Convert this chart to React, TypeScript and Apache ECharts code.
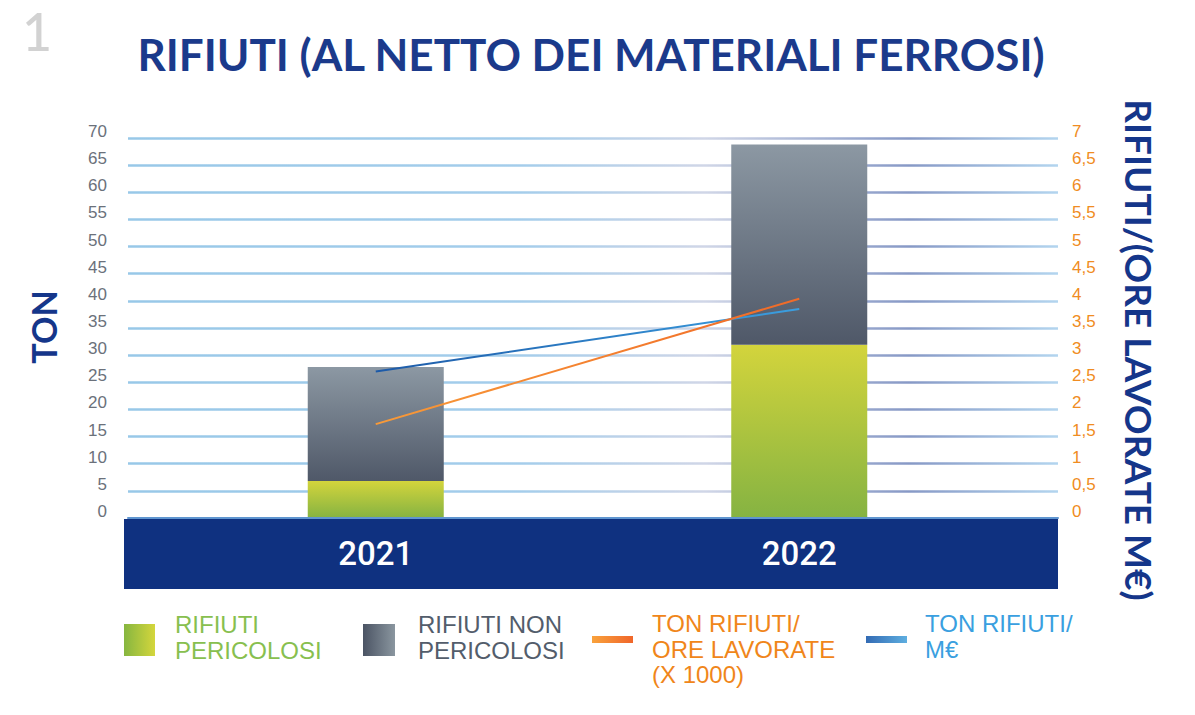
import React, { useEffect, useRef } from "react";
import * as echarts from "echarts";

const years = ["2021", "2022"];
const pericolosi = [6.8, 31.9];
const nonPericolosi = [21.0, 36.9];
const tonOreLavorate = [1.73, 4.04];
const tonMilioni = [2.7, 3.85];

const leftTicks = { min: 0, max: 70, interval: 5 };
const rightTicks = { min: 0, max: 7, interval: 0.5 };

const FONT = "'Liberation Sans', Arial, sans-serif";
const TITLE_FONT = "Lato, 'DejaVu Sans', sans-serif";
const NAVY = "#15368a";

const lg = (x2: number, y2: number, c0: string, c1: string) =>
  new echarts.graphic.LinearGradient(0, 0, x2, y2, [
    { offset: 0, color: c0 },
    { offset: 1, color: c1 },
  ]);

export default function App() {
  const ref = useRef<HTMLDivElement>(null);
  useEffect(() => {
    if (!ref.current) return;
    const chart = echarts.init(ref.current, null, { renderer: "svg" });
    const gridTop = 138;
    const gridHeight = 380;
    const splitGrad = new echarts.graphic.LinearGradient(
      128,
      0,
      1058,
      0,
      [
        { offset: 0, color: "#98c8e8" },
        { offset: 0.42, color: "#a4cdeb" },
        { offset: 0.62, color: "#d0d6e7" },
        { offset: 0.84, color: "#8799c6" },
        { offset: 1, color: "#b3d5ef" },
      ],
      true
    );
    chart.setOption({
      animation: false,
      backgroundColor: "#ffffff",
      grid: [
        { left: 128, width: 930, top: gridTop, height: gridHeight },
        { left: 164, width: 847, top: gridTop, height: gridHeight },
      ],
      xAxis: [
        {
          type: "category",
          gridIndex: 0,
          data: [""],
          axisLine: { show: true, lineStyle: { color: "#5f95d0", width: 2 } },
          axisTick: { show: false },
          axisLabel: { show: false },
          z: 5,
        },
        {
          type: "category",
          gridIndex: 1,
          data: years,
          axisLine: { show: false },
          axisTick: { show: false },
          axisLabel: {
            color: "#ffffff",
            fontFamily: "Roboto, sans-serif",
            fontWeight: 500,
            fontSize: 33,
            margin: 19,
          },
          z: 10,
        },
      ],
      yAxis: [
        {
          type: "value",
          gridIndex: 0,
          position: "left",
          ...leftTicks,
          axisLine: { show: false },
          axisTick: { show: false },
          splitLine: { show: true, lineStyle: { color: splitGrad, width: 2.5 } },
          axisLabel: {
            color: "#6b717b",
            fontFamily: FONT,
            fontSize: 17,
            margin: 21,
            verticalAlign: "bottom",
            lineHeight: 13,
          },
        },
        {
          type: "value",
          gridIndex: 0,
          position: "right",
          ...rightTicks,
          axisLine: { show: false },
          axisTick: { show: false },
          splitLine: { show: false },
          axisLabel: {
            color: "#f08c22",
            fontFamily: FONT,
            fontSize: 17,
            margin: 14,
            verticalAlign: "bottom",
            lineHeight: 13,
            formatter: (v: number) => String(v).replace(".", ","),
          },
        },
        {
          type: "value",
          gridIndex: 1,
          ...leftTicks,
          show: false,
          splitLine: { show: false },
        },
        {
          type: "value",
          gridIndex: 1,
          ...rightTicks,
          show: false,
          splitLine: { show: false },
        },
      ],
      series: [
        {
          name: "RIFIUTI PERICOLOSI",
          type: "bar",
          xAxisIndex: 1,
          yAxisIndex: 2,
          stack: "tot",
          barWidth: 136,
          data: pericolosi,
          itemStyle: { color: lg(0, 1, "#d3d43c", "#85b342") },
          z: 3,
        },
        {
          name: "RIFIUTI NON PERICOLOSI",
          type: "bar",
          xAxisIndex: 1,
          yAxisIndex: 2,
          stack: "tot",
          barWidth: 136,
          data: nonPericolosi,
          itemStyle: { color: lg(0, 1, "#8c98a3", "#4f5868") },
          z: 3,
        },
        {
          name: "TON RIFIUTI/M€",
          type: "line",
          xAxisIndex: 1,
          yAxisIndex: 3,
          data: tonMilioni,
          showSymbol: false,
          symbol: "none",
          lineStyle: { width: 2, color: lg(1, 0, "#1d5aa8", "#3b9fe0") },
          z: 6,
        },
        {
          name: "TON RIFIUTI/ORE LAVORATE (X 1000)",
          type: "line",
          xAxisIndex: 1,
          yAxisIndex: 3,
          data: tonOreLavorate,
          showSymbol: false,
          symbol: "none",
          lineStyle: { width: 2, color: lg(1, 0, "#f89a38", "#f06a28") },
          z: 6,
        },
      ],
      graphic: [
        {
          type: "rect",
          z: 1,
          shape: { x: 124, y: 519, width: 934, height: 70 },
          style: { fill: "#0f3180" },
        },
        {
          type: "text",
          style: {
            x: 22,
            y: 5,
            text: "1",
            fill: "#d2d2d2",
            font: `500 52px ${TITLE_FONT}`,
            textVerticalAlign: "top",
          },
        },
        {
          type: "text",
          style: {
            x: 591,
            y: 54,
            text: "RIFIUTI (AL NETTO DEI MATERIALI FERROSI)",
            fill: "#1b3a8b",
            font: `bold 44px ${TITLE_FONT}`,
            textAlign: "center",
            textVerticalAlign: "middle",
          },
        },
        {
          type: "text",
          x: 43,
          y: 327,
          rotation: Math.PI / 2,
          style: {
            x: 0,
            y: 0,
            text: "TON",
            fill: NAVY,
            font: `bold 34px ${TITLE_FONT}`,
            textAlign: "center",
            textVerticalAlign: "middle",
          },
        },
        {
          type: "text",
          x: 1139,
          y: 350,
          rotation: -Math.PI / 2,
          style: {
            x: 0,
            y: 0,
            text: "RIFIUTI/(ORE LAVORATE M€)",
            fill: NAVY,
            font: `bold 37px ${TITLE_FONT}`,
            textAlign: "center",
            textVerticalAlign: "middle",
          },
        },
        // legend
        {
          type: "rect",
          shape: { x: 124, y: 624, width: 31, height: 32 },
          style: { fill: lg(1, 0, "#86b640", "#d4d63c") },
        },
        {
          type: "text",
          style: {
            x: 175,
            y: 612,
            text: "RIFIUTI\nPERICOLOSI",
            fill: "#88bf4f",
            font: `24px ${FONT}`,
            lineHeight: 25.5,
            textVerticalAlign: "top",
          },
        },
        {
          type: "rect",
          shape: { x: 363, y: 624, width: 32, height: 32 },
          style: { fill: lg(1, 0, "#4b5464", "#8a969f") },
        },
        {
          type: "text",
          style: {
            x: 418,
            y: 612,
            text: "RIFIUTI NON\nPERICOLOSI",
            fill: "#535d6b",
            font: `24px ${FONT}`,
            lineHeight: 25.5,
            textVerticalAlign: "top",
          },
        },
        {
          type: "rect",
          shape: { x: 592, y: 636, width: 41, height: 7 },
          style: { fill: lg(1, 0, "#f9a23c", "#f0662a") },
        },
        {
          type: "text",
          style: {
            x: 652,
            y: 611,
            text: "TON RIFIUTI/\nORE LAVORATE\n(X 1000)",
            fill: "#f0861a",
            font: `24px ${FONT}`,
            lineHeight: 25.5,
            textVerticalAlign: "top",
          },
        },
        {
          type: "rect",
          shape: { x: 866, y: 636, width: 41, height: 7 },
          style: { fill: lg(1, 0, "#336bb4", "#5eaee0") },
        },
        {
          type: "text",
          style: {
            x: 925,
            y: 611,
            text: "TON RIFIUTI/\nM€",
            fill: "#3a9fe0",
            font: `24px ${FONT}`,
            lineHeight: 25.5,
            textVerticalAlign: "top",
          },
        },
      ],
    });
    return () => chart.dispose();
  }, []);
  return (
    <div
      ref={ref}
      style={{ position: "absolute", left: 0, top: 0, width: 1195, height: 715 }}
    />
  );
}
